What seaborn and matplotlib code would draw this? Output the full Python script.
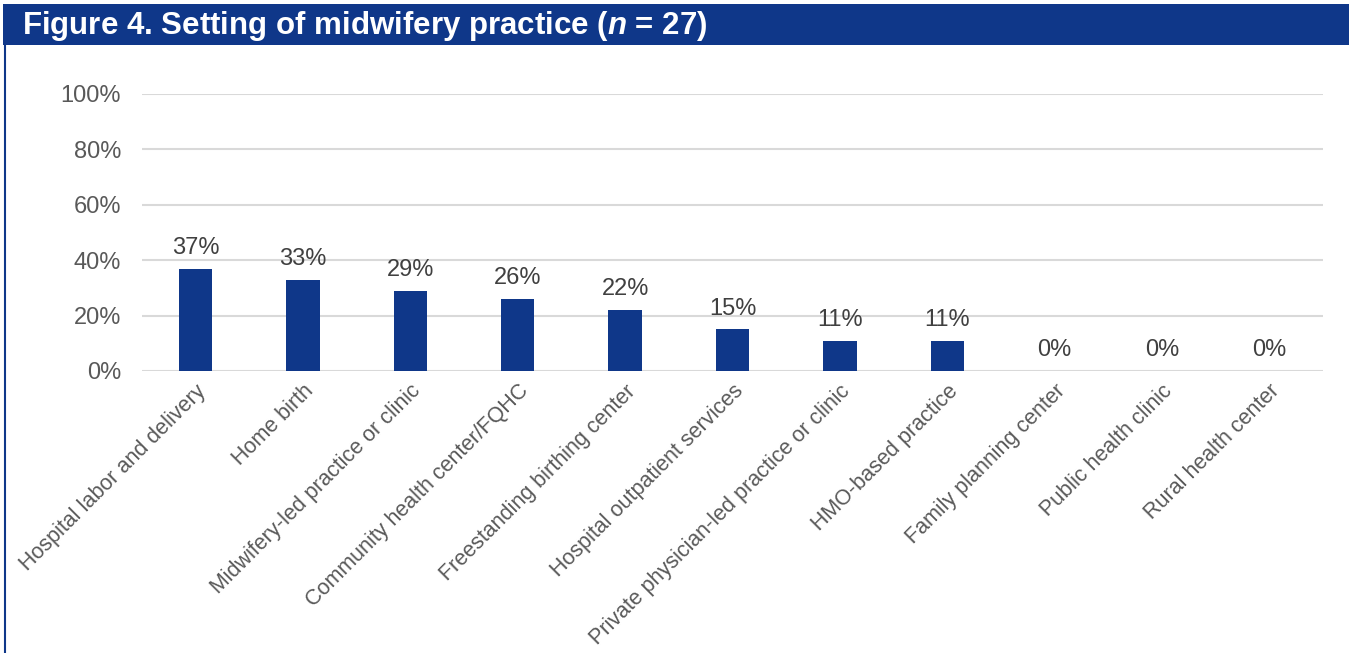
import matplotlib
matplotlib.use("Agg")
import matplotlib.pyplot as plt
import seaborn as sns
import pandas as pd
from matplotlib.patches import Rectangle
from matplotlib.lines import Line2D
from matplotlib.ticker import FuncFormatter

categories = [
    "Hospital labor and delivery",
    "Home birth",
    "Midwifery-led practice or clinic",
    "Community health center/FQHC",
    "Freestanding birthing center",
    "Hospital outpatient services",
    "Private physician-led practice or clinic",
    "HMO-based practice",
    "Family planning center",
    "Public health clinic",
    "Rural health center",
]
values = [37, 33, 29, 26, 22, 15, 11, 11, 0, 0, 0]
yticks = [0, 20, 40, 60, 80, 100]
title = "Figure 4. Setting of midwifery practice ($\\mathit{n}$ = 27)"

sns.set_theme(style="white")
plt.rcParams["font.family"] = ["Liberation Sans", "DejaVu Sans"]
plt.rcParams["mathtext.fontset"] = "custom"
plt.rcParams["mathtext.it"] = "Liberation Sans:italic:bold"
plt.rcParams["mathtext.rm"] = "Liberation Sans:bold"

BLUE = "#0F3789"
GRID = "#D9D9D9"
TICK = "#595959"
LABEL = "#404040"

df = pd.DataFrame({"cat": categories, "val": values})

fig = plt.figure(figsize=(13.49, 6.53), dpi=100)
ax = fig.add_axes([142 / 1349, 1 - 371 / 653, (1323 - 142) / 1349, (371 - 94) / 653])

sns.barplot(data=df, x="cat", y="val", color=BLUE, width=0.31, ax=ax,
            saturation=1, edgecolor="none", zorder=3)

ax.set_ylim(0, 100)
ax.set_yticks(yticks)
ax.yaxis.set_major_formatter(FuncFormatter(lambda v, p: f"{int(v)}%"))
ax.grid(axis="y", color=GRID, linewidth=1.5, zorder=0)
ax.set_axisbelow(True)
for s in ax.spines.values():
    s.set_visible(False)
ax.set_xlabel("")
ax.set_ylabel("")
ax.tick_params(axis="y", labelsize=17, labelcolor=TICK, length=0, pad=15)
ax.tick_params(axis="x", labelsize=15.5, labelcolor=TICK, length=0, pad=7)
ax.set_xticks(range(len(categories)))
ax.set_xticklabels(categories, rotation=45, ha="right", rotation_mode="anchor")

for i, v in enumerate(values):
    ax.annotate(f"{v}%", (i, v), xytext=(0, 7), textcoords="offset points",
                ha="center", va="bottom", fontsize=17, color=LABEL)

# title bar and frame
fig.patches.append(Rectangle((3 / 1349, 1 - 45 / 653), 1 - 3 / 1349, 41 / 653,
                             transform=fig.transFigure, facecolor=BLUE,
                             edgecolor="none", zorder=0))
fig.lines.append(Line2D([5 / 1349, 5 / 1349], [0, 1 - 45 / 653],
                        transform=fig.transFigure, color=BLUE, linewidth=1.5))
fig.text(22 / 1349, 1 - 26 / 653, title, color="white", fontsize=22.5,
         fontweight="bold", va="center", ha="left")

fig.savefig("out.png", dpi=100, facecolor="white")
